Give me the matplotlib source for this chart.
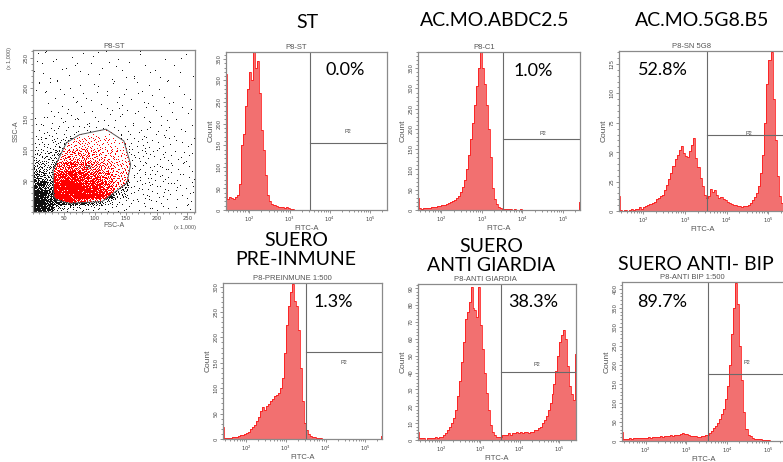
import numpy as np
import matplotlib
matplotlib.use('Agg')
import matplotlib.pyplot as plt
from matplotlib.path import Path
from matplotlib.ticker import MultipleLocator, AutoMinorLocator, LogLocator, NullFormatter

W, H = 783, 462

# ---- histogram data: counts per 0.05-decade bin, first bin centre 10^1.425 ----
BIN_LO, BIN_STEP = 1.40, 0.05

st_counts = [315, 25, 30, 28, 25, 30, 35, 60, 150, 175, 240, 280, 320, 300, 365, 330,
             345, 270, 185, 140, 80, 35, 20, 15, 12, 10, 8, 7, 6, 5, 6, 4, 3, 2, 1, 0,
             0, 0, 0, 0, 0, 0, 0, 0, 0, 0, 0, 0, 0, 0, 0, 0, 0, 0, 0, 0, 0, 0, 0, 0,
             0, 0, 0, 0, 0, 0, 0, 0, 0, 0, 0, 0, 0, 0, 0, 0, 0, 0, 0, 0, 0]
abdc_counts = [29, 4, 3, 4, 5, 5, 6, 7, 8, 8, 10, 10, 12, 13, 15, 18, 20, 22, 25, 30,
               35, 45, 58, 75, 100, 135, 175, 215, 260, 305, 350, 389, 350, 310, 258,
               200, 130, 55, 28, 15, 8, 5, 3, 3, 2, 2, 2, 1, 2, 1, 1, 2, 1, 1, 1, 1, 1,
               0, 1, 1, 0, 1, 1, 0, 1, 0, 1, 0, 1, 0, 0, 1, 0, 0, 1, 0, 0, 1, 0, 0, 20]
g58_counts = [13, 1, 0, 1, 0, 1, 2, 1, 2, 2, 3, 2, 3, 4, 5, 6, 7, 8, 10, 11, 13, 14,
              18, 22, 27, 32, 38, 44, 48, 52, 55, 49, 47, 46, 51, 56, 62, 45, 37, 28, 21,
              14, 11, 13, 19, 16, 18, 14, 11, 12, 10, 9, 8, 7, 6, 5, 5, 4, 4, 3, 4, 4, 5,
              7, 9, 12, 15, 21, 32, 48, 75, 108, 128, 135, 95, 60, 30, 13, 7, 4, 3]
pre_counts = [23, 2, 1, 2, 2, 3, 3, 4, 6, 7, 8, 10, 11, 14, 20, 24, 28, 35, 43, 55, 62,
              58, 64, 68, 75, 78, 84, 86, 90, 100, 120, 170, 225, 262, 290, 306, 272,
              262, 215, 140, 75, 32, 17, 10, 6, 4, 3, 2, 2, 1, 0, 0, 0, 0, 0, 0, 0, 0,
              0, 0, 0, 0, 0, 0, 0, 0, 0, 0, 0, 0, 0, 0, 0, 0, 0, 0, 0, 0, 0, 0, 5]
giar_counts = [5, 1, 1, 1, 0, 1, 1, 1, 1, 2, 1, 2, 2, 3, 4, 6, 8, 10, 13, 18, 26, 35,
               46, 58, 72, 76, 82, 91, 78, 77, 73, 91, 68, 54, 40, 28, 18, 9, 5, 3, 2, 2,
               2, 3, 3, 3, 4, 3, 4, 4, 5, 4, 5, 4, 5, 5, 4, 5, 5, 6, 6, 7, 8, 10, 12, 14,
               18, 22, 27, 33, 41, 50, 58, 62, 65, 60, 44, 32, 27, 24, 51]
bip_counts = [24, 6, 5, 6, 7, 6, 7, 8, 7, 8, 9, 8, 9, 10, 9, 10, 11, 10, 11, 12, 11, 13,
              14, 13, 15, 14, 16, 17, 16, 19, 21, 19, 18, 16, 14, 13, 12, 11, 11, 12, 13,
              15, 17, 21, 27, 33, 40, 48, 58, 70, 85, 110, 145, 200, 280, 350, 415, 360,
              250, 160, 75, 32, 17, 12, 8, 6, 5, 4, 4, 3, 3, 2, 2, 1, 1, 1, 1, 1, 1, 1, 1]

hist_titles = ['ST', 'AC.MO.ABDC2.5', 'AC.MO.5G8.B5',
               'SUERO\nPRE-INMUNE', 'SUERO\nANTI GIARDIA', 'SUERO ANTI- BIP']
hist_subtitles = ['P8-ST', 'P8-C1', 'P8-SN 5G8',
                  'P8-PREINMUNE 1:500', 'P8-ANTI GIARDIA', 'P8-ANTI BIP 1:500']
hist_pct = ['0.0%', '1.0%', '52.8%', '1.3%', '38.3%', '89.7%']
hist_ymax = [366, 390, 136, 307, 92.5, 418]
hist_ystep = [50, 50, 25, 50, 10, 50]
gate_x = 3300
gate_y = [156, 176, 65, 172, 40.6, 175]
p2_logx = [4.44, 4.50, 4.54, 4.46, 4.43, 4.48]
p2_y = [181, 190, 66, 151, 45, 206]
all_counts = [st_counts, abdc_counts, g58_counts, pre_counts, giar_counts, bip_counts]

# ---- scatter (FSC-A vs SSC-A, x1000): dot density per 10x10 unit square ----
sc_x_edges = [0, 10, 20, 33, 50, 70, 90, 110, 130, 155, 190, 225, 262.144]
sc_y_edges = [0, 10, 20, 35, 50, 65, 80, 100, 120, 140, 170, 210, 262.144]
sc_density = [
    [85, 70, 40, 8, 5, 4, 3, 2, 1.5, 1.2, 1.0, 0.8],
    [85, 70, 40, 40, 40, 30, 18, 8, 2, 1.5, 1.2, 0.8],
    [70, 50, 30, 70, 75, 65, 50, 35, 8, 1.8, 1.3, 0.9],
    [45, 35, 20, 65, 70, 60, 45, 30, 12, 2, 1.5, 1.0],
    [25, 18, 12, 45, 50, 42, 30, 20, 9, 2, 1.5, 1.0],
    [12, 10, 8, 22, 28, 24, 17, 12, 7, 2, 1.5, 1.0],
    [6, 6, 6, 9, 14, 14, 10, 7, 5, 2, 1.3, 0.9],
    [2.5, 2.5, 2.5, 4, 6, 7, 5, 4, 3, 1.6, 1.0, 0.7],
    [1.4, 1.4, 1.4, 1.4, 1.4, 1.6, 1.6, 1.5, 1.2, 1.0, 0.8, 0.5],
    [0.8, 0.8, 0.8, 0.8, 0.8, 0.8, 0.7, 0.7, 0.7, 0.6, 0.5, 0.4],
    [0.6, 0.6, 0.6, 0.6, 0.5, 0.5, 0.5, 0.5, 0.5, 0.5, 0.4, 0.3],
    [0.5, 0.5, 0.5, 0.5, 0.4, 0.4, 0.4, 0.4, 0.4, 0.4, 0.3, 0.25],
]
gate_p1 = [(33.6, 25), (32.5, 68), (54, 112), (75, 125), (118, 134), (147, 115),
           (158, 77), (152, 47), (123, 25), (112, 17), (59, 14), (38, 19.5)]

SMALL = ['Liberation Sans', 'DejaVu Sans']
BIG = ['Lato', 'DejaVu Sans']
FRAME = '#8a8a8a'
TXT = '#555555'

fig = plt.figure(figsize=(W / 100, H / 100), dpi=100)


def px_axes(l, t, r, b):
    return fig.add_axes([l / W, 1 - b / H, (r - l) / W, (b - t) / H])


def ftext(x, y, s, **kw):
    fig.text(x / W, 1 - y / H, s, **kw)


def vdc(idx, base):
    # van der Corput radical inverse, used to spread a cell's dots evenly
    out = np.zeros(len(idx))
    f = 1.0 / base
    i = idx.copy()
    while np.any(i > 0):
        out += f * (i % base)
        i //= base
        f /= base
    return out


def style_axes(ax):
    for sp in ax.spines.values():
        sp.set_color(FRAME)
        sp.set_linewidth(0.9)
    ax.tick_params(which='both', direction='out', colors='#666666', width=0.5,
                   labelsize=3.8, pad=1, labelcolor='#444444')
    ax.tick_params(which='major', length=2.2)
    ax.tick_params(which='minor', length=1.2)
    ax.tick_params(axis='y', labelrotation=90)
    for lab in ax.get_yticklabels():
        lab.set_va('center')


# scatter panel
ax = px_axes(33, 50, 195, 212)
xe = np.array(sc_x_edges)
ye = np.array(sc_y_edges)
pts = []
k = 1
for j in range(len(ye) - 1):
    for i in range(len(xe) - 1):
        w, h = xe[i + 1] - xe[i], ye[j + 1] - ye[j]
        n = int(round(sc_density[j][i] * w * h / 100))
        idx = np.arange(k, k + n)
        u = vdc(idx, 2)
        v = vdc(idx, 3)
        pts.append(np.column_stack([xe[i] + u * w, ye[j] + v * h]))
        k += n + 7
pts = np.vstack(pts)
inside = Path(gate_p1).contains_points(pts)
ax.plot(pts[~inside, 0], pts[~inside, 1], ',', color='#111111')
ax.plot(pts[inside, 0], pts[inside, 1], ',', color='#ff0000')
gx, gy = zip(*(gate_p1 + [gate_p1[0]]))
ax.plot(gx, gy, color='#555555', lw=0.7)
ax.text(91, 72, 'P1', fontsize=3.8, color='#333333', family=SMALL, ha='center', va='center')
ax.set_xlim(0, 262.144)
ax.set_ylim(0, 262.144)
ax.xaxis.set_major_locator(MultipleLocator(50))
ax.yaxis.set_major_locator(MultipleLocator(50))
ax.xaxis.set_minor_locator(AutoMinorLocator(5))
ax.yaxis.set_minor_locator(AutoMinorLocator(5))
style_axes(ax)
ax.set_xticks([50, 100, 150, 200, 250], ['50', '100', '150', '200', '250'])
ax.set_yticks([50, 100, 150, 200, 250], ['50', '100', '150', '200', '250'])
for lab in ax.get_yticklabels():
    lab.set_va('center')
ax.set_xlabel('FSC-A', fontsize=5, color=TXT, family=SMALL, labelpad=0.5)
ax.set_ylabel('SSC-A', fontsize=5, color=TXT, family=SMALL, labelpad=3)
ax.set_title('P8-ST', fontsize=5.5, color=TXT, family=SMALL, pad=1.5)
ftext(185, 227, '(x 1,000)', fontsize=4, color=TXT, family=SMALL, ha='center', va='center')
ftext(9, 58, '(x 1,000)', fontsize=4, color=TXT, family=SMALL, ha='center', va='center',
      rotation=90)

# histogram panels
frames = [(226, 52, 387, 210), (418, 52, 580, 210), (619, 51, 786, 211),
          (223, 283, 382, 439), (418, 284, 576, 440), (622, 282, 785, 441)]
title_pos = [(307, 22), (495, 21), (702, 21), (296, 250), (491, 256), (696, 264)]
sub_x = [296, 484, 692, 292, 485, 692]
pct_pos = [(345, 70), (533, 71), (663, 70), (333, 302), (533, 302), (662, 302)]

edges = 10 ** (BIN_LO + BIN_STEP * np.arange(len(st_counts) + 1))
xmin, xmax = 10 ** 1.42, 10 ** 5.42

for p in range(6):
    l, t, r, b = frames[p]
    ax = px_axes(l, t, r, b)
    cnt = np.array(all_counts[p], dtype=float)
    ax.stairs(cnt, edges, fill=True, color='#f27070', lw=0)
    ax.stairs(cnt, edges, color='#ff1010', lw=0.55)
    ax.set_xscale('log')
    ax.set_xlim(xmin, xmax)
    ax.set_ylim(0, hist_ymax[p])
    ax.axvline(gate_x, color='#6a6a6a', lw=0.8)
    ax.plot([gate_x, xmax], [gate_y[p], gate_y[p]], color='#6a6a6a', lw=0.8)
    ax.text(10 ** p2_logx[p], p2_y[p], 'P2', fontsize=4, color='#444444',
            family=SMALL, ha='center', va='center')
    ax.xaxis.set_major_locator(LogLocator(base=10, numticks=10))
    ax.xaxis.set_minor_locator(LogLocator(base=10, subs=np.arange(2, 10), numticks=10))
    ax.xaxis.set_minor_formatter(NullFormatter())
    ax.yaxis.set_major_locator(MultipleLocator(hist_ystep[p]))
    ax.yaxis.set_minor_locator(AutoMinorLocator(5))
    style_axes(ax)
    ax.set_xlabel('FITC-A', fontsize=5.5, color=TXT, family=SMALL, labelpad=1)
    ax.set_ylabel('Count', fontsize=6, color=TXT, family=SMALL, labelpad=1.5)
    ftext(sub_x[p], t - 4.5, hist_subtitles[p], fontsize=5.5, color=TXT, family=SMALL,
          ha='center', va='center')
    tx, ty = title_pos[p]
    ftext(tx, ty, hist_titles[p], fontsize=14, family=BIG, ha='center', va='center',
          linespacing=1.15)
    px, py = pct_pos[p]
    ftext(px, py, hist_pct[p], fontsize=13, family=BIG, ha='center', va='center')

fig.savefig('out.png', dpi=100)
